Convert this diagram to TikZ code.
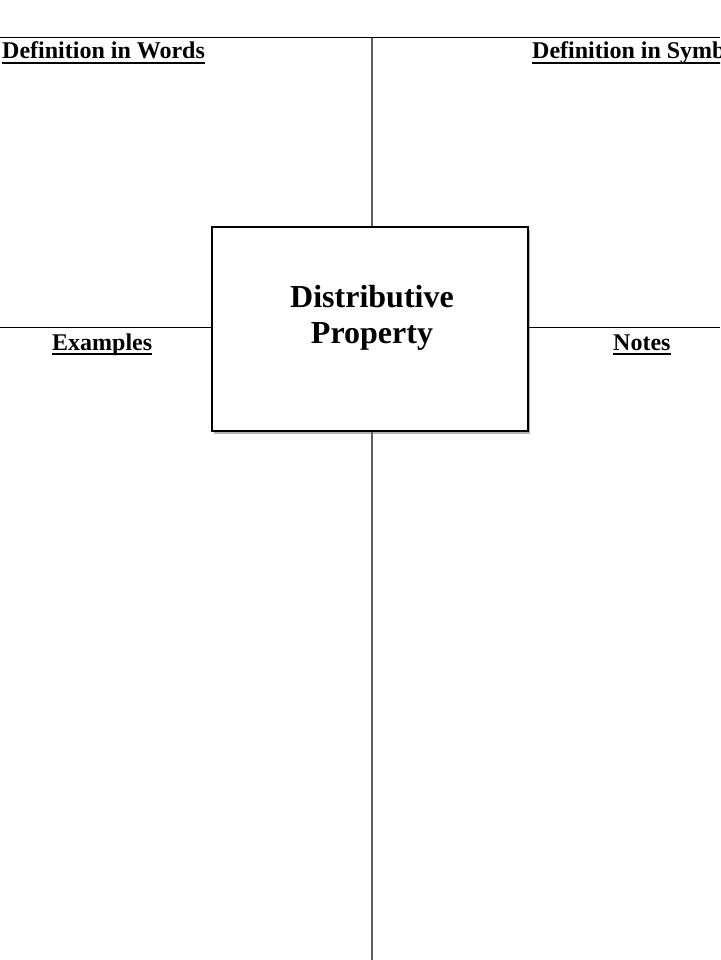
\documentclass[tikz,border=0pt]{standalone}
\usepackage{fontspec}
\setmainfont{Liberation Serif}
\usetikzlibrary{shadows}
\begin{document}
\begin{tikzpicture}[x=1pt,y=-1pt,
  heading/.style={font=\bfseries\fontsize{24}{28}\selectfont, inner sep=0pt, anchor=base west},
  title/.style={font=\bfseries\fontsize{32}{36}\selectfont, inner sep=0pt, anchor=base},
  gridline/.style={line width=1pt, black},
  midline/.style={line width=1.1pt, gray!75!black},
  cardbox/.style={draw=black, line width=1.4pt, fill=white, drop shadow={shadow xshift=2pt, shadow yshift=-3pt, opacity=0.5, fill=black!60}},
  uline/.style={line width=1.6pt}]
\useasboundingbox (0,0) rectangle (720,960);
\clip (0,0) rectangle (720,960);
\fill[white] (0,0) rectangle (720,960);
% grid lines
\coordinate (tl) at (0,38);
\coordinate (tr) at (720,38);
\coordinate (vt) at (372,38);
\coordinate (vb) at (372,960);
\coordinate (ml) at (0,327);
\coordinate (mr) at (720,327);
\draw[gridline] (tl) -- (tr);
\draw[midline] (vt) -- (vb);
\draw[gridline] (ml) -- (mr);
% central box
\coordinate (b1) at (212,227);
\coordinate (b2) at (528,431);
\path[cardbox] (b1) rectangle (b2);
\node[title] (t1) at (372,307) {Distributive};
\node[title] (t2) at (372,343) {Property};
% headings
\node[heading] (h1) at (2,59) {Definition in Words};
\node[heading] (h2) at (532,59) {Definition in Symbols};
\node[heading] (h3) at (52,350) {Examples};
\node[heading] (h4) at (613,350) {Notes};
\foreach \h in {h1,h2,h3,h4}{
  \draw[uline] ([yshift=-4pt]\h.base west) -- ([yshift=-4pt]\h.base east);
}
\end{tikzpicture}
\end{document}
